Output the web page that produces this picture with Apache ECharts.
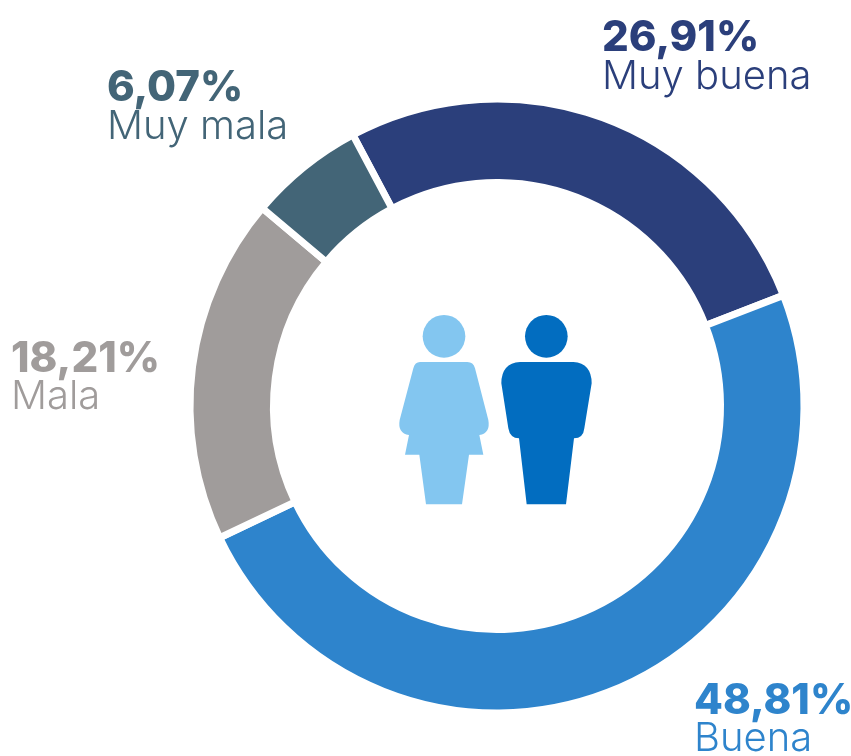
<!DOCTYPE html>
<html><head><meta charset="utf-8">
<style>html,body{margin:0;padding:0;background:#fff}#c{width:851px;height:756px}</style>
<script src="https://cdn.jsdelivr.net/npm/echarts@6/dist/echarts.min.js"></script>
</head><body><div id="c"></div>
<script>
const categories = ['Muy buena', 'Buena', 'Mala', 'Muy mala'];
const values = [26.91, 48.81, 18.21, 6.07];
const colors = ['#2B3F7B', '#2E84CC', '#A09C9B', '#436577'];
const labelLeft = [602, 694, 11, 107];
const valueMid = [38, 701, 359, 88];
const nameMid = [77, 739, 397, 127];
const FONT = 'Inter';
echarts.graphic.registerShape('womanBody', echarts.graphic.extendPath('M120,186 L262,186 Q280,186 285,205 L325,360 Q332,400 298,405 L310,464 L267,464 L246,613 L138,613 L118,464 L75,464 L87,405 Q52,400 59,360 L100,205 Q105,186 120,186 Z', {}));
echarts.graphic.registerShape('manBody', echarts.graphic.extendPath('M420,186 L580,186 Q635,190 635,250 L613,385 Q610,415 582,415 L558,613 L440,613 L417,415 Q390,415 385,385 L364,250 Q364,190 420,186 Z', {}));
const chart = echarts.init(document.getElementById('c'), null, {renderer: 'canvas'});
const fmt = v => v.toFixed(2).replace('.', ',') + '%';
const labelTexts = [];
categories.forEach((name, i) => {
  labelTexts.push({type: 'text', x: labelLeft[i], y: valueMid[i], silent: true,
    style: {text: fmt(values[i]), fill: colors[i], fontFamily: FONT, fontWeight: 800, fontSize: 42, align: 'left', verticalAlign: 'middle'}});
  labelTexts.push({type: 'text', x: labelLeft[i], y: nameMid[i], silent: true,
    style: {text: name, fill: colors[i], fontFamily: FONT, fontWeight: 300, fontSize: 40, align: 'left', verticalAlign: 'middle'}});
});
chart.setOption({
  animation: false,
  backgroundColor: '#fff',
  series: [{
    type: 'pie',
    center: [497, 406],
    radius: [223.5, 307],
    startAngle: 118,
    clockwise: true,
    avoidLabelOverlap: false,
    label: {show: false},
    labelLine: {show: false},
    itemStyle: {borderColor: '#fff', borderWidth: 7},
    emphasis: {disabled: true},
    data: categories.map((name, i) => ({name, value: values[i], itemStyle: {color: colors[i]}}))
  }],
  graphic: [{
    type: 'group', x: 380, y: 300, scaleX: 1 / 3, scaleY: 1 / 3, silent: true,
    children: [
      {type: 'circle', shape: {cx: 192, cy: 109, r: 64}, style: {fill: '#83C6F0'}},
      {type: 'womanBody', style: {fill: '#83C6F0'}},
      {type: 'circle', shape: {cx: 499, cy: 109, r: 64}, style: {fill: '#026DC0'}},
      {type: 'manBody', style: {fill: '#026DC0'}}
    ]
  }].concat(labelTexts)
});
</script></body></html>
